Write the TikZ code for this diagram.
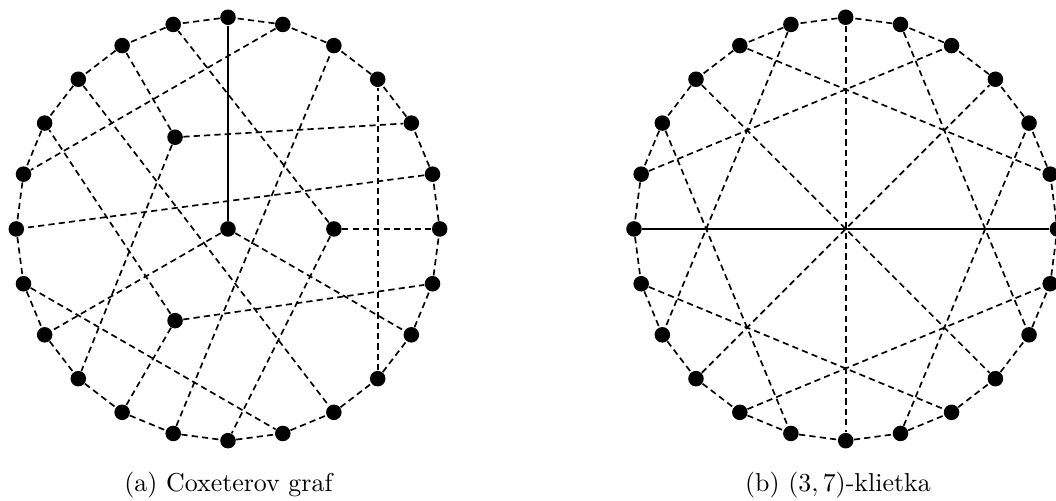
\documentclass[tikz,border=0pt]{standalone}
\usetikzlibrary{calc}

\tikzset{
  vertex/.style={circle, fill=black, inner sep=0pt, minimum size=6pt},
  hrana/.style={line width=0.65pt},
  dhrana/.style={hrana, dash pattern=on 2.4pt off 1.6pt},
}

\begin{document}
\begin{tikzpicture}
    \useasboundingbox (0,0) rectangle (14.33,6.785);
    % Coxeterov graf
    \begin{scope}[shift={(3.094,3.678)}]
      \foreach \k in {0,...,23}
        \node[vertex] (a\k) at (15*\k:2.873) {};
      \node[vertex] (ac) at (0,0) {};
      \node[vertex] (ap) at (0:1.437) {};
      \node[vertex] (aq) at (120:1.437) {};
      \node[vertex] (ar) at (240:1.437) {};
      % vonkajsi cyklus
      \foreach \k [evaluate=\k as \n using {int(mod(\k+1,24))}] in {0,...,23}
        \draw[dhrana] (a\k) -- (a\n);
      % stred
      \draw[hrana] (ac) -- (a6);
      \draw[dhrana] (ac) -- (a14);
      \draw[dhrana] (ac) -- (a22);
      % vnutorne vrcholy
      \foreach \u/\v in {ap/a0, ap/a7, ap/a18, aq/a2, aq/a8, aq/a15, ar/a10, ar/a16, ar/a23}
        \draw[dhrana] (\u) -- (\v);
      % tetivy
      \foreach \u/\v in {5/11, 13/19, 21/3, 1/12, 9/20, 17/4}
        \draw[dhrana] (a\u) -- (a\v);
    \end{scope}
    % (3,7)-klietka
    \begin{scope}[shift={(11.476,3.678)}]
      \foreach \k in {0,...,23}
        \node[vertex] (b\k) at (15*\k:2.873) {};
      \foreach \k [evaluate=\k as \n using {int(mod(\k+1,24))}] in {0,...,23}
        \draw[dhrana] (b\k) -- (b\n);
      \draw[hrana] (b12) -- (b0);
      \foreach \u/\v in {6/18, 7/14, 8/1, 9/21, 10/17, 11/4, 13/20, 15/3, 16/23, 19/2, 5/22}
        \draw[dhrana] (b\u) -- (b\v);
    \end{scope}
    % popisy
    \node[anchor=base] (popa) at (3.10,0.109) {(a) Coxeterov graf};
    \node[anchor=base] (popb) at (11.37,0.109) {(b) $(3,7)$-klietka};
  \end{tikzpicture}
\end{document}
